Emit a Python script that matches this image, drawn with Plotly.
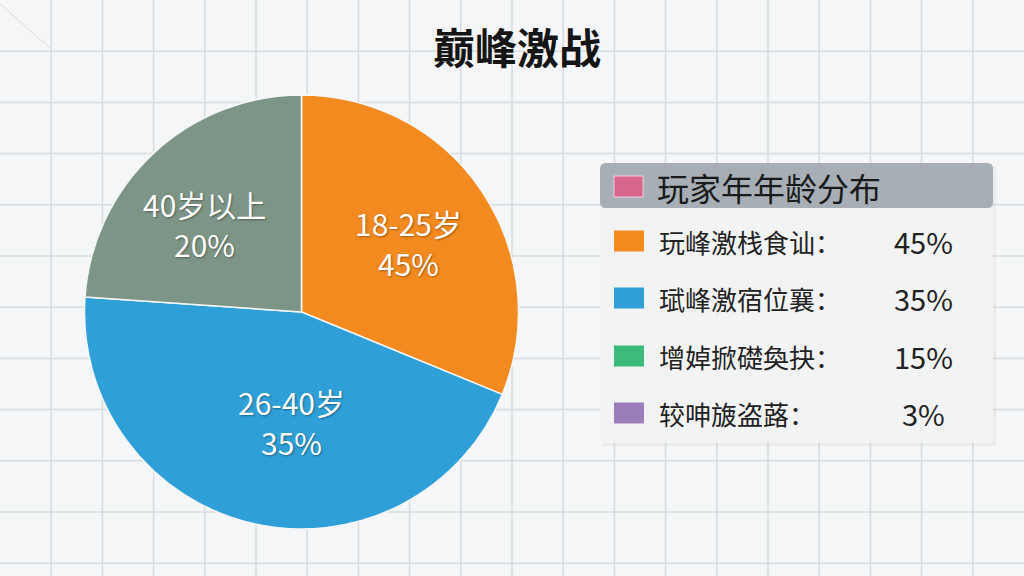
import plotly.graph_objects as go

# ---- data ----
age_groups = ["18-25岁", "26-40岁", "40岁以上"]
share_labels = ["45%", "35%", "20%"]
slice_values = [31.2, 44.9, 23.9]          # slice sizes as drawn in the picture
slice_colors = ["#F28A1F", "#2F9FD7", "#7D9586"]

legend_title = "玩家年年龄分布"
legend_names = ["玩峰激栈食讪：", "珷峰激宿位襄：", "增婥掀礎奐抉：", "较呻旇盗蕗："]
legend_pcts = ["45%", "35%", "15%", "3%"]
legend_colors = ["#F28A1F", "#2F9FD7", "#3DBB7A", "#9B7DB9"]
title_swatch = "#D8668C"

W, H = 1024, 576
FONT = "Noto Sans CJK SC"


def px(x):
    return x / W


def py(y):
    return 1 - y / H


fig = go.Figure()

fig.add_trace(go.Pie(
    labels=age_groups,
    values=slice_values,
    sort=False,
    direction="clockwise",
    rotation=0,
    marker=dict(colors=slice_colors, line=dict(color="#F4F6F7", width=1.5)),
    textinfo="none",
    hoverinfo="label",
    showlegend=False,
    domain=dict(x=[px(83), px(520)], y=[py(529), py(95)]),
))

shapes = []
# graph-paper background grid
step = 51.2
k = 1
while k * step < W:
    shapes.append(dict(type="line", xref="paper", yref="paper", layer="below",
                       x0=px(k * step), x1=px(k * step), y0=0, y1=1,
                       line=dict(color="#D9DCDE", width=1.5)))
    k += 1
k = 1
while k * step < H:
    shapes.append(dict(type="line", xref="paper", yref="paper", layer="below",
                       x0=0, x1=1, y0=py(k * step), y1=py(k * step),
                       line=dict(color="#D9DCDE", width=1.5)))
    k += 1
shapes.append(dict(type="line", xref="paper", yref="paper", layer="below",
                   x0=0, x1=px(50), y0=py(4), y1=py(48),
                   line=dict(color="#D9DCDE", width=1)))

# legend panel: shadow, body, title bar
shapes.append(dict(type="rect", xref="paper", yref="paper", layer="below",
                   x0=px(602), x1=px(996), y0=py(446), y1=py(166),
                   fillcolor="rgba(0,0,0,0.04)", line=dict(width=0)))
shapes.append(dict(type="rect", xref="paper", yref="paper", layer="below",
                   x0=px(600), x1=px(993), y0=py(443), y1=py(208),
                   fillcolor="rgba(242,243,243,0.92)", line=dict(width=0)))
shapes.append(dict(type="path", xref="paper", yref="paper", layer="below",
                   path=(f"M {px(606)},{py(163)} L {px(987)},{py(163)} "
                         f"Q {px(993)},{py(163)} {px(993)},{py(169)} "
                         f"L {px(993)},{py(202)} Q {px(993)},{py(208)} {px(987)},{py(208)} "
                         f"L {px(606)},{py(208)} Q {px(600)},{py(208)} {px(600)},{py(202)} "
                         f"L {px(600)},{py(169)} Q {px(600)},{py(163)} {px(606)},{py(163)} Z"),
                   fillcolor="#A7AEB6", line=dict(width=0)))
# title swatch
shapes.append(dict(type="rect", xref="paper", yref="paper",
                   x0=px(614), x1=px(643), y0=py(197), y1=py(176),
                   fillcolor=title_swatch, line=dict(color="#F0D0DA", width=1)))

row_y = [241, 298, 356, 413]
for c, yc in zip(legend_colors, row_y):
    shapes.append(dict(type="rect", xref="paper", yref="paper",
                       x0=px(614), x1=px(644), y0=py(yc + 10.5), y1=py(yc - 10.5),
                       fillcolor=c, line=dict(width=0)))

annotations = []
annotations.append(dict(text="<b>巅峰激战</b>", x=px(517), y=py(45), xref="paper", yref="paper",
                        showarrow=False, font=dict(family=FONT, size=42, color="#151515"),
                        xanchor="center", yanchor="middle"))

label_pos = [(408, 243), (291, 422), (204, 224)]
label_font = dict(family=FONT, size=30, color="white",
                  shadow="1px 1px 2px rgba(0,0,0,0.35)")
for name, pct, (lx, ly) in zip(age_groups, share_labels, label_pos):
    annotations.append(dict(text=name, x=px(lx), y=py(ly - 20),
                            xref="paper", yref="paper", showarrow=False, borderpad=0,
                            xanchor="center", yanchor="middle", font=label_font))
    annotations.append(dict(text=pct, x=px(lx), y=py(ly + 20),
                            xref="paper", yref="paper", showarrow=False, borderpad=0,
                            xanchor="center", yanchor="middle", font=label_font))

annotations.append(dict(text=legend_title, x=px(655), y=py(187), xref="paper", yref="paper",
                        showarrow=False, xanchor="left", yanchor="middle",
                        font=dict(family=FONT, size=32, color="#1A1A1A")))
for name, pct, yc in zip(legend_names, legend_pcts, row_y):
    annotations.append(dict(text=name, x=px(657), y=py(yc), xref="paper", yref="paper",
                            showarrow=False, xanchor="left", yanchor="middle",
                            font=dict(family=FONT, size=26, color="#222222")))
    annotations.append(dict(text=pct, x=px(923), y=py(yc), xref="paper", yref="paper",
                            showarrow=False, xanchor="center", yanchor="middle",
                            font=dict(family=FONT, size=29, color="#222222")))

fig.update_layout(
    width=W, height=H,
    margin=dict(l=0, r=0, t=0, b=0),
    paper_bgcolor="#F4F6F7",
    plot_bgcolor="#F4F6F7",
    shapes=shapes,
    annotations=annotations,
)

fig.write_html("out.html", config={"displayModeBar": False},
               post_script="document.body.style.margin='0';")
